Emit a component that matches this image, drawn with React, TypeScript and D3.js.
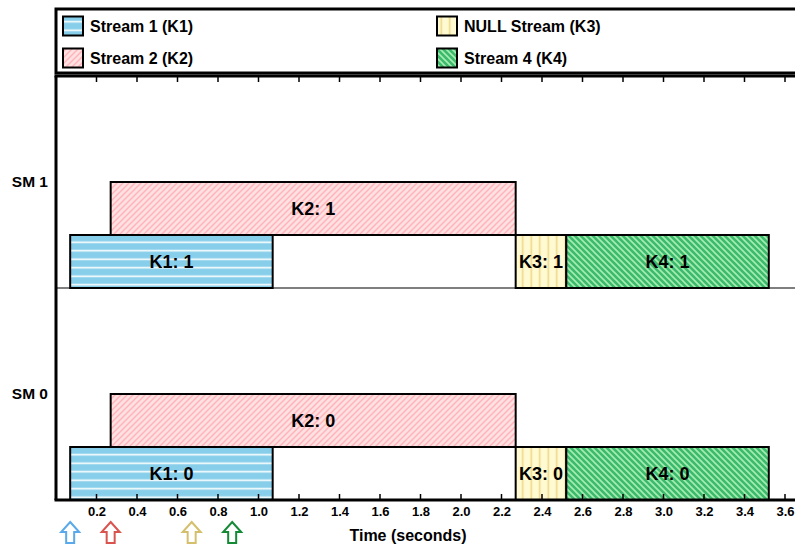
import React, { useEffect, useRef } from 'react';
import * as d3 from 'd3';

// kernel timeline per SM
const kernels = ['K1', 'K2', 'K3', 'K4'];
const streamNames = ['Stream 1 (K1)', 'Stream 2 (K2)', 'NULL Stream (K3)', 'Stream 4 (K4)'];
const starts = [0.07, 0.27, 2.27, 2.52];
const ends = [1.07, 2.27, 2.52, 3.52];
const levels = [0, 1, 0, 0];
const sms = [0, 1];
const launchTimes = [0.07, 0.27, 0.67, 0.87];
const xTicks = [0.2, 0.4, 0.6, 0.8, 1.0, 1.2, 1.4, 1.6, 1.8, 2.0, 2.2, 2.4, 2.6, 2.8, 3.0, 3.2, 3.4, 3.6];

const fills = ['#87ceeb', '#ffe1e1', '#fffad2', '#3cba6e'];
const hatchColors = ['#ffffff', '#ffb4bc', '#eed88a', '#a6eeb0'];
const arrowColors = ['#5aa9ea', '#d9534f', '#d4bf6c', '#148a36'];
const font = '"Liberation Sans", Arial, sans-serif';

export default function App() {
  const ref = useRef<SVGSVGElement>(null);

  useEffect(() => {
    const w = 795, h = 547;
    const left = 56, top = 76, bottom = 500;
    const svg = d3.select(ref.current);
    svg.selectAll('*').remove();
    svg.attr('width', w).attr('height', h).style('font-family', font);

    const x = d3.scaleLinear().domain([0, 3.7]).range([left, left + 3.7 * 202.5]);
    const y = d3.scaleLinear().domain([0, 2]).range([bottom, top]);

    const defs = svg.append('defs');
    // hatch patterns: horizontal, /, vertical, \
    const pat = (id: string, size: number, bg: string, col: string, lw: number, d: string) => {
      const p = defs.append('pattern').attr('id', id).attr('patternUnits', 'userSpaceOnUse')
        .attr('width', size).attr('height', size);
      p.append('rect').attr('width', size).attr('height', size).attr('fill', bg);
      p.append('path').attr('d', d).attr('stroke', col).attr('stroke-width', lw).attr('fill', 'none');
    };
    pat('h0', 8.5, fills[0], hatchColors[0], 1.6, 'M0,4.25H8.5');
    pat('h1', 6, fills[1], hatchColors[1], 1.5, 'M-1,1L1,-1M0,6L6,0M5,7L7,5');
    pat('h2', 8.5, fills[2], hatchColors[2], 1.6, 'M4.25,0V8.5');
    pat('h3', 6, fills[3], hatchColors[3], 1.6, 'M-1,5L1,7M0,0L6,6M5,-1L7,1');

    // legend
    svg.append('rect').attr('x', 56).attr('y', 9).attr('width', 760).attr('height', 64)
      .attr('fill', 'white').attr('stroke', 'black').attr('stroke-width', 3);
    const legX = [63, 437];
    const legY = [26, 58];
    streamNames.forEach((name, i) => {
      const col = i < 2 ? 0 : 1;
      const row = i % 2;
      const g = svg.append('g').attr('transform', `translate(${legX[col]},${legY[row]})`);
      g.append('rect').attr('x', 0).attr('y', -9.5).attr('width', 20).attr('height', 19)
        .attr('fill', `url(#h${i})`).attr('stroke', 'black').attr('stroke-width', 2);
      g.append('text').attr('x', 27).attr('y', 0).attr('dy', '0.35em')
        .attr('font-size', 16).attr('font-weight', 'bold').text(name);
    });

    // SM divider
    svg.append('line').attr('x1', left).attr('x2', w).attr('y1', y(1)).attr('y2', y(1))
      .attr('stroke', 'black').attr('stroke-width', 1.2);

    // bars
    sms.forEach((sm) => {
      kernels.forEach((k, i) => {
        const y0 = y(sm + levels[i] * 0.25);
        const y1 = y(sm + (levels[i] + 1) * 0.25);
        svg.append('rect').attr('x', x(starts[i])).attr('y', y1)
          .attr('width', x(ends[i]) - x(starts[i])).attr('height', y0 - y1)
          .attr('fill', `url(#h${i})`).attr('stroke', 'black').attr('stroke-width', 2);
        svg.append('text').attr('x', (x(starts[i]) + x(ends[i])) / 2).attr('y', (y0 + y1) / 2)
          .attr('dy', '0.35em').attr('text-anchor', 'middle')
          .attr('font-size', 18).attr('font-weight', 'bold').text(`${k}: ${sm}`);
      });
      svg.append('text').attr('x', 48).attr('y', y(sm + 0.5)).attr('dy', '0.35em')
        .attr('text-anchor', 'end').attr('font-size', 15.5).attr('font-weight', 'bold')
        .text(`SM ${sm}`);
    });

    // axes
    const xaxis = d3.axisBottom(x).tickValues(xTicks).tickSize(0).tickPadding(7)
      .tickFormat(d3.format('.1f'));
    const ax = svg.append('g').attr('transform', `translate(0,${bottom})`).call(xaxis);
    ax.select('.domain').remove();
    ax.selectAll('text').attr('font-size', 13).attr('font-weight', 'bold')
      .attr('font-family', font).attr('fill', 'black');

    xTicks.forEach((t) => {
      svg.append('line').attr('x1', x(t)).attr('x2', x(t)).attr('y1', bottom).attr('y2', bottom - 6)
        .attr('stroke', 'black').attr('stroke-width', 1.5);
      svg.append('line').attr('x1', x(t)).attr('x2', x(t)).attr('y1', top).attr('y2', top + 6)
        .attr('stroke', 'black').attr('stroke-width', 1.5);
    });

    svg.append('line').attr('x1', left - 1.5).attr('x2', w).attr('y1', bottom).attr('y2', bottom)
      .attr('stroke', 'black').attr('stroke-width', 3);
    svg.append('line').attr('x1', left - 1.5).attr('x2', w).attr('y1', top).attr('y2', top)
      .attr('stroke', 'black').attr('stroke-width', 3);
    svg.append('line').attr('x1', left).attr('x2', left).attr('y1', top).attr('y2', bottom)
      .attr('stroke', 'black').attr('stroke-width', 3);

    svg.append('text').attr('x', 408).attr('y', 535).attr('dy', '0.35em').attr('text-anchor', 'middle')
      .attr('font-size', 16).attr('font-weight', 'bold').text('Time (seconds)');

    // launch arrows
    launchTimes.forEach((t, i) => {
      const cx = x(t);
      const d = `M${cx},522 L${cx + 9},532 L${cx + 4},532 L${cx + 4},543 L${cx - 4},543 L${cx - 4},532 L${cx - 9},532 Z`;
      svg.append('path').attr('d', d).attr('fill', 'white')
        .attr('stroke', arrowColors[i]).attr('stroke-width', 2).attr('stroke-linejoin', 'miter');
    });
  }, []);

  return (
    <div style={{ position: 'absolute', left: 0, top: 0 }}>
      <svg ref={ref} />
    </div>
  );
}
